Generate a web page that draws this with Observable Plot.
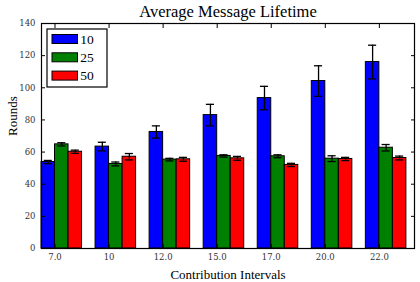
<!DOCTYPE html>
<html>
<head>
<meta charset="utf-8">
<script src="https://cdn.jsdelivr.net/npm/d3@7"></script>
<script src="https://cdn.jsdelivr.net/npm/@observablehq/plot@0.6"></script>
<style>
  html, body { margin: 0; padding: 0; background: #fff; }
  g[aria-label="x-axis tick label"], g[aria-label="y-axis tick label"],
  g[aria-label="x-axis tick label"] text, g[aria-label="y-axis tick label"] text {
    font-family: "DejaVu Serif", serif !important;
    font-size: 8.5px !important;
    fill: #333 !important;
  }
  .legend-label { font-family: "Liberation Serif", "DejaVu Serif", serif; font-size: 13.5px; fill: #000; }
</style>
</head>
<body>
<div id="chart"></div>
<script>
// Contribution intervals (x groups) and message-size series
const intervals = ["7.0", "10", "12.0", "15.0", "17.0", "20.0", "22.0"];
const seriesNames = ["10", "25", "50"];
const seriesColors = ["#0000ff", "#008000", "#ff0000"];

// Mean lifetime (rounds) and error per series
const lifetime10 = [53.8, 63.4, 72.5, 83.0, 93.6, 104.2, 116.0];
const error10    = [1.0, 2.7, 3.8, 6.7, 7.3, 9.5, 10.5];
const lifetime25 = [64.8, 52.6, 55.3, 57.6, 57.4, 55.9, 62.7];
const error25    = [1.0, 1.2, 0.8, 0.7, 0.9, 1.8, 2.0];
const lifetime50 = [60.2, 57.1, 55.5, 56.1, 52.0, 55.7, 56.3];
const error50    = [1.0, 2.0, 1.2, 1.2, 1.0, 1.0, 1.2];

const yTicks = [0, 20, 40, 60, 80, 100, 120, 140];
const titleText = "Average Message Lifetime";
const xLabel = "Contribution Intervals";
const yLabel = "Rounds";

const barWidth = 0.25;
const capHalf = 0.075;
const valuesBySeries = [lifetime10, lifetime25, lifetime50];
const errorsBySeries = [error10, error25, error50];

const rows = [];
seriesNames.forEach((s, si) => {
  intervals.forEach((g, gi) => {
    const x1 = gi + si * barWidth;
    const v = valuesBySeries[si][gi];
    const e = errorsBySeries[si][gi];
    rows.push({series: s, group: g, x1, x2: x1 + barWidth, xc: x1 + barWidth / 2,
               value: v, lo: v - e, hi: v + e});
  });
});
const xTicks = intervals.map((g, i) => i + barWidth);

const serif = "'Liberation Serif', 'DejaVu Serif', serif";

const chart = Plot.plot({
  width: 420,
  height: 282,
  marginLeft: 41,
  marginRight: 6,
  marginTop: 23,
  marginBottom: 34,
  style: {fontFamily: serif, background: "#fff", color: "#000"},
  x: {domain: [0, 6.9]},
  y: {domain: [0, 140]},
  color: {domain: seriesNames, range: seriesColors},
  marks: [
    Plot.rectY(rows, {x1: "x1", x2: "x2", y1: 0, y2: "value", fill: "series",
                      stroke: "#000", strokeWidth: 1}),
    Plot.ruleX(rows, {x: "xc", y1: "lo", y2: "hi", stroke: "#000", strokeWidth: 1.3}),
    Plot.ruleY(rows, {y: "hi", x1: d => d.xc - capHalf, x2: d => d.xc + capHalf, stroke: "#000", strokeWidth: 1.3}),
    Plot.ruleY(rows, {y: "lo", x1: d => d.xc - capHalf, x2: d => d.xc + capHalf, stroke: "#000", strokeWidth: 1.3}),
    // inward ticks on all four sides
    Plot.axisX({anchor: "bottom", ticks: xTicks, tickSize: -4, tickFormat: () => "", label: null}),
    Plot.axisX({anchor: "top", ticks: xTicks, tickSize: -4, tickFormat: () => "", label: null}),
    Plot.axisY({anchor: "left", ticks: yTicks, tickSize: -4, tickFormat: () => "", label: null}),
    Plot.axisY({anchor: "right", ticks: yTicks, tickSize: -4, tickFormat: () => "", label: null}),
    // tick labels
    Plot.axisX({anchor: "bottom", ticks: xTicks, tickSize: 0, tickPadding: 5,
                tickFormat: d => intervals[Math.round(d - barWidth)], label: null}),
    Plot.axisY({anchor: "left", ticks: yTicks, tickSize: 0, tickPadding: 6, label: null}),
    Plot.frame({stroke: "#000", strokeWidth: 1.2}),
    // titles
    Plot.text([titleText], {frameAnchor: "top", lineAnchor: "middle", dy: -12, fontSize: 16.5, fill: "#000", fontFamily: serif}),
    Plot.text([xLabel], {frameAnchor: "bottom", lineAnchor: "middle", dy: 26, fontSize: 13, fill: "#000", fontFamily: serif}),
    Plot.text([yLabel], {frameAnchor: "left", dx: -29, rotate: -90, fontSize: 13, fill: "#000", fontFamily: serif})
  ]
});

// legend box in the upper-left corner of the frame
const svg = d3.select(chart);
const legend = svg.append("g").attr("transform", "translate(47,29)");
legend.append("rect").attr("x", 0).attr("y", 0).attr("width", 60).attr("height", 58)
  .attr("fill", "#fff").attr("stroke", "#000").attr("stroke-width", 1.2);
const items = legend.selectAll("g.item").data(seriesNames).join("g")
  .attr("transform", (d, i) => `translate(0,${5.5 + i * 18.3})`);
items.append("rect").attr("x", 5).attr("y", 0).attr("width", 25.5).attr("height", 9)
  .attr("fill", (d, i) => seriesColors[i]).attr("stroke", "#000").attr("stroke-width", 1);
items.append("text").attr("class", "legend-label").attr("x", 40).attr("y", 4.5).attr("dy", "0.35em")
  .text(d => d);

document.getElementById("chart").appendChild(chart);
</script>
</body>
</html>
